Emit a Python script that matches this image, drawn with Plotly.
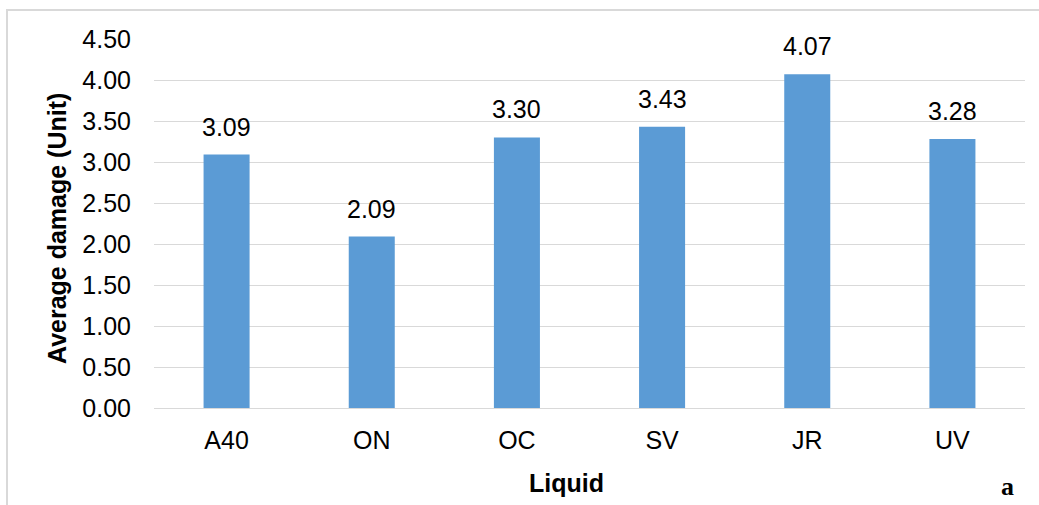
import plotly.graph_objects as go

liquids = ["A40", "ON", "OC", "SV", "JR", "UV"]
avg_damage = [3.09, 2.09, 3.30, 3.43, 4.07, 3.28]
y_ticks = [0.0, 0.5, 1.0, 1.5, 2.0, 2.5, 3.0, 3.5, 4.0, 4.5]

W, H = 1039, 505
L, R, T, B = 154, 14, 39, 97
pw, ph = W - L - R, H - T - B

def px_x(x):
    return (x - L) / pw

def px_y(y):
    return (H - B - y) / ph

font = "Liberation Sans, Arial, sans-serif"

fig = go.Figure()
fig.add_trace(go.Bar(
    x=liquids, y=avg_damage,
    marker=dict(color="#5B9BD5", line=dict(width=0)),
    hoverinfo="x+y",
))

# value labels above each bar
for cat, val in zip(liquids, avg_damage):
    fig.add_annotation(x=cat, y=val, text=f"{val:.2f}", showarrow=False,
                       xref="x", yref="y", yanchor="bottom", yshift=12,
                       font=dict(family=font, size=25, color="#000000"))

# axis titles
fig.add_annotation(text="<b>Liquid</b>", x=px_x(566), y=px_y(483),
                   xref="paper", yref="paper", showarrow=False,
                   xanchor="center", yanchor="middle",
                   font=dict(family=font, size=25, color="#000000"))
fig.add_annotation(text="<b>Average damage (Unit)</b>", x=px_x(57), y=px_y(229),
                   xref="paper", yref="paper", showarrow=False, textangle=-90,
                   xanchor="center", yanchor="middle",
                   font=dict(family=font, size=25, color="#000000"))
# panel letter
fig.add_annotation(text="<b>a</b>", x=px_x(1007), y=px_y(486),
                   xref="paper", yref="paper", showarrow=False,
                   xanchor="center", yanchor="middle",
                   font=dict(family="Liberation Serif, Times New Roman, serif", size=26, color="#000000"))

# chart frame
fig.add_shape(type="rect", xref="paper", yref="paper",
              x0=px_x(7), x1=px_x(1060), y0=px_y(530), y1=px_y(10),
              line=dict(color="#d9d9d9", width=2), fillcolor="rgba(0,0,0,0)", layer="below")

fig.update_layout(
    width=W, height=H,
    margin=dict(l=L, r=R, t=T, b=B, pad=0),
    paper_bgcolor="white", plot_bgcolor="white",
    bargap=0.683,
    showlegend=False,
    xaxis=dict(
        showgrid=False, showline=True, linecolor="#d9d9d9", linewidth=1,
        ticks="", ticklabelstandoff=10,
        tickfont=dict(family=font, size=25, color="#000000"),
    ),
    yaxis=dict(
        range=[0, 4.5], tickvals=y_ticks, ticktext=[f"{v:.2f}" for v in y_ticks],
        showgrid=True, gridcolor="#d9d9d9", gridwidth=1,
        zeroline=False, showline=False, ticks="", ticklabelstandoff=22,
        tickfont=dict(family=font, size=25, color="#000000"),
    ),
)

fig.write_html("out.html")
